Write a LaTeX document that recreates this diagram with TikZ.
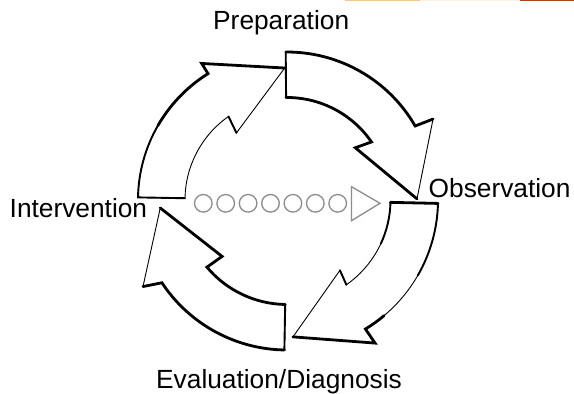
\documentclass[tikz,border=0pt]{standalone}
\usepackage{fontspec}
\setmainfont{Liberation Sans}
\definecolor{barlight}{RGB}{242,200,150}
\definecolor{barpale}{RGB}{253,241,226}
\definecolor{barbrown}{RGB}{170,72,32}
\definecolor{ringgray}{RGB}{140,140,140}
\begin{document}
\begin{tikzpicture}[x=1pt,y=1pt,
  body/.style={fill=white,draw=black,line width=0.9pt,line join=miter},
  heavy/.style={draw=black,line width=2.8pt,line join=miter,line cap=round},
  medium/.style={draw=black,line width=1.9pt,line join=miter,line cap=round},
  ring/.style={circle,draw=ringgray,line width=1.3pt,minimum size=17.6pt,inner sep=0pt},
  lbl/.style={font=\fontsize{26.3}{30}\selectfont,inner sep=0pt,anchor=base west}]
\fill[white] (0,0) rectangle (574,394);
\useasboundingbox (0,0) rectangle (574,394);
% thin bar at top right
\fill[barlight] (345,392.5) rectangle (420,394);
\fill[barpale] (420,392.5) rectangle (520,394);
\fill[barbrown] (520,392.5) rectangle (574,394);

\begin{scope}[shift={(287,194)}]
% arrow 1: Intervention -> Preparation
\path[body] (179:149) arc[start angle=179,end angle=122,radius=149] -- (122:161) -- (91:132) -- (127:84) -- (125:102) arc[start angle=125,end angle=179,radius=102] -- cycle;
\draw[medium] (179:102) -- (179:149) arc[start angle=179,end angle=150,radius=149];
\draw[heavy] (150:149) arc[start angle=150,end angle=122,radius=149] -- (122:161) -- (91:132);
\draw[medium] (125:102) -- (127:84);
% arrow 2: Preparation -> Observation
\path[body] (90.5:148) arc[start angle=90.5,end angle=30,radius=148] -- (29:167) -- (0.5:130) -- (37.4:86) -- (34.5:102.5) arc[start angle=34.5,end angle=90.5,radius=102.5] -- cycle;
\draw[heavy] (90.5:148) arc[start angle=90.5,end angle=30,radius=148] -- (29:167);
\draw[heavy] (0.5:130) -- (37.4:86) -- (34.5:102.5) arc[start angle=34.5,end angle=90.5,radius=102.5];
\draw[medium] (90.5:102.5) -- (90.5:148);
% arrow 3: Observation -> Evaluation
\path[body] (-1.3:151) arc[start angle=-1.3,end angle=-58.7,radius=151] -- (-58.4:168) -- (-87.5:137) -- (-53:88) -- (-55:103.5) arc[start angle=-55,end angle=-1.3,radius=103.5] -- cycle;
\draw[heavy] (-1.3:103.5) -- (-1.3:151);
\draw[medium] (-1.3:151) arc[start angle=-1.3,end angle=-30,radius=151];
\draw[heavy] (-50:151) arc[start angle=-50,end angle=-58.7,radius=151] -- (-58.4:168) -- (-87.5:137);
\draw[medium] (-53:88) -- (-55:103.5);
\draw[medium] (-25:103.5) arc[start angle=-25,end angle=-1.3,radius=103.5];
% arrow 4: Evaluation -> Intervention
\path[body] (269:150) arc[start angle=269,end angle=213.5,radius=150] -- (211:168) -- (183.6:127) -- (221:86) -- (220:104.5) arc[start angle=220,end angle=269,radius=104.5] -- cycle;
\draw[heavy] (269:150) arc[start angle=269,end angle=213.5,radius=150] -- (211:168);
\draw[heavy] (183.6:127) -- (221:86) -- (220:104.5) arc[start angle=220,end angle=269,radius=104.5];
\draw[medium] (269:104.5) -- (269:150);
\end{scope}

% row of rings and triangle
\foreach \i in {0,...,6} {
  \node[ring] (r\i) at (203.3+22.4*\i,190.7) {};
}
\draw[ringgray,line width=1.3pt,line join=miter] (351.5,207.3) -- (380,190.7) -- (351.5,173.3) -- cycle;

% labels
\node[lbl] (prep) at (213,364) {Preparation};
\node[lbl] (obs) at (428.5,196.7) {Observation};
\node[lbl] (int) at (9.5,176.7) {Intervention};
\node[lbl] (eval) at (156,5.7) {Evaluation/Diagnosis};
\end{tikzpicture}
\end{document}
